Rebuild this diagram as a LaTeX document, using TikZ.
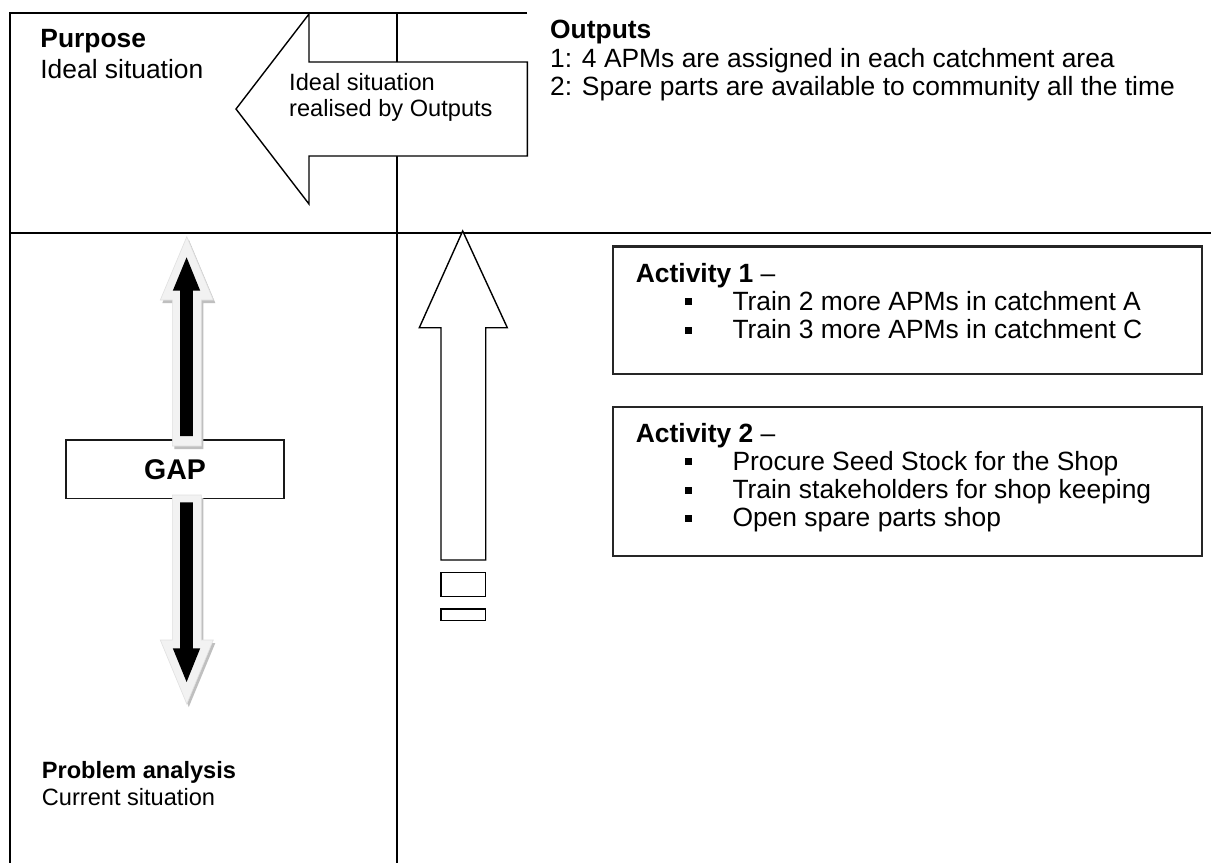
\documentclass[tikz,border=0pt]{standalone}
\usepackage{fontspec}
\setmainfont{Liberation Sans}
\begin{document}
\begin{tikzpicture}[x=1pt,y=-1pt,
  frame/.style={line width=2pt, black},
  shapeline/.style={line width=1.4pt, black, fill=white, line join=miter},
  actbox/.style={line width=2.2pt, black!85},
  big/.style={font=\fontsize{26.4}{30}\selectfont, anchor=base west, inner sep=0pt},
  small/.style={font=\fontsize{23.6}{27}\selectfont, anchor=base west, inner sep=0pt},
  glow/.style={fill=black!5, draw=black!12, line width=0.6pt},
  shade/.style={fill=black!25},
  bulletsq/.style={fill=black}
]
\useasboundingbox (0,0) rectangle (1211,863);
\fill[white] (0,0) rectangle (1211,863);

% frame
\draw[frame] (527,13.3) -- (9.5,13.3) -- (9.5,863);
\draw[frame] (396.7,13.3) -- (396.7,863);
\draw[frame] (9.5,232.5) -- (1211,232.5);

% big left arrow
\draw[shapeline] (236,109) -- (309,14) -- (309,62) -- (527.3,62) -- (527.3,156)
  -- (309,156) -- (309,204) -- cycle;
\node[small] (ideal1) at (289,90) {Ideal situation};
\node[small] (ideal2) at (289,116.7) {realised by Outputs};

% up arrow
\draw[shapeline] (462.7,231) -- (507.3,327.7) -- (485.7,327.7) -- (485.7,560)
  -- (441,560) -- (441,327.7) -- (419.3,327.7) -- cycle;
\draw[shapeline] (441,572.3) rectangle (485.7,596.7);
\draw[shapeline] (441,609) rectangle (485.7,620.7);

% GAP box
\node[draw=black!90, line width=1.6pt, fill=white, minimum width=218pt, minimum height=58.3pt,
  inner sep=0pt, font=\fontsize{28.5}{32}\bfseries\selectfont] (gap) at (175,469.2) {GAP};

% GAP double arrow: shadow
\begin{scope}[shift={(2,3)}]
\fill[shade] (186.8,236.7) -- (213.3,300) -- (201.3,300) -- (201.3,446) -- (172.3,446)
  -- (172.3,300) -- (160.3,300) -- cycle;
\fill[shade] (172.3,495) -- (201.3,495) -- (201.3,640) -- (213.3,640) -- (186.8,704)
  -- (160.3,640) -- (172.3,640) -- cycle;
\end{scope}
% light outline
\draw[glow] (186.8,236.7) -- (213.3,300) -- (201.3,300) -- (201.3,446) -- (172.3,446)
  -- (172.3,300) -- (160.3,300) -- cycle;
\draw[glow] (172.3,495) -- (201.3,495) -- (201.3,640) -- (213.3,640) -- (186.8,704)
  -- (160.3,640) -- (172.3,640) -- cycle;
% black inner
\fill[black] (186.6,257.3) -- (200.2,290.7) -- (192.8,290.7) -- (192.8,436) -- (180.2,436)
  -- (180.2,290.7) -- (172.8,290.7) -- cycle;
\fill[black] (180.2,502.3) -- (192.8,502.3) -- (192.8,648.3) -- (200.2,648.3) -- (186.6,682)
  -- (172.8,648.3) -- (180.2,648.3) -- cycle;

% Purpose
\node[big, font=\fontsize{26.4}{30}\bfseries\selectfont] (purpose) at (40.2,47.7) {Purpose};
\node[big] (purpose2) at (40.2,78.3) {Ideal situation};

% Outputs
\node[big, font=\fontsize{26.4}{30}\bfseries\selectfont] (outputs) at (550,38) {Outputs};
\node[big] (out1) at (550,67) {1: 4 APMs are assigned in each catchment area};
\node[big] (out2) at (550,95) {2: Spare parts are available to community all the time};

% Activity 1
\draw[actbox] (613.3,246.5) rectangle (1202.3,374.3);
\node[big] (act1) at (635.7,282) {\textbf{Activity 1} –};
\fill[bulletsq] (685,298.2) rectangle (692,305.2);
\node[big] (a11) at (732.3,310.3) {Train 2 more APMs in catchment A};
\fill[bulletsq] (685,326.5) rectangle (692,333.5);
\node[big] (a12) at (732.3,338.6) {Train 3 more APMs in catchment C};

% Activity 2
\draw[actbox] (613.3,406.7) rectangle (1202.3,556);
\node[big] (act2) at (635.7,442) {\textbf{Activity 2} –};
\fill[bulletsq] (685,458.2) rectangle (692,465.2);
\node[big] (a21) at (732.3,470.3) {Procure Seed Stock for the Shop};
\fill[bulletsq] (685,486.5) rectangle (692,493.5);
\node[big] (a22) at (732.3,498.6) {Train stakeholders for shop keeping};
\fill[bulletsq] (685,514.8) rectangle (692,521.8);
\node[big] (a23) at (732.3,526.9) {Open spare parts shop};

% Problem analysis
\node[small, font=\fontsize{23.6}{27}\bfseries\selectfont] (prob) at (41.7,778.3) {Problem analysis};
\node[small] (prob2) at (41.7,805) {Current situation};
\end{tikzpicture}
\end{document}
